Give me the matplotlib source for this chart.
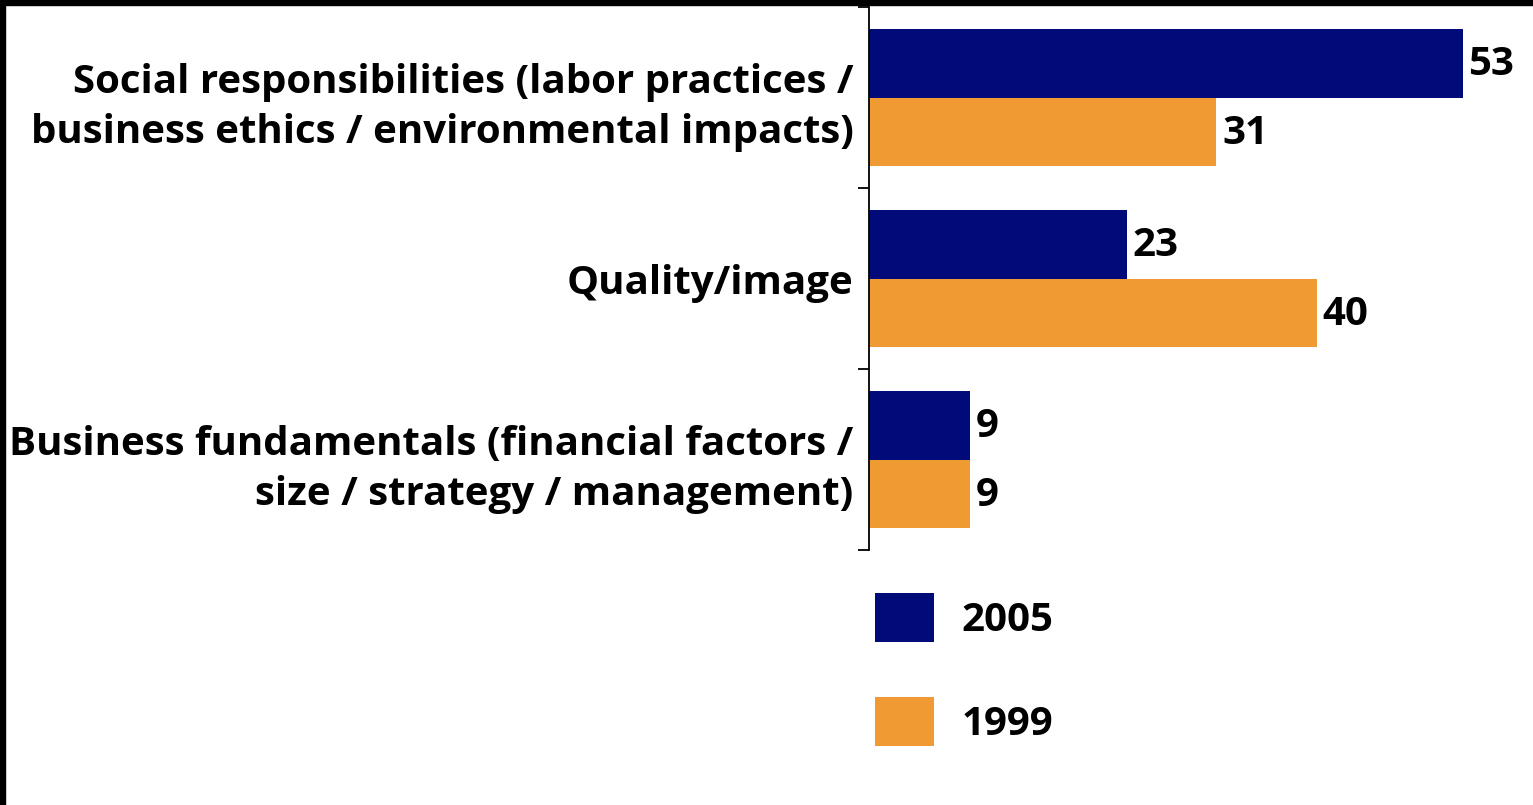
import matplotlib
matplotlib.use("Agg")
import matplotlib.pyplot as plt
from matplotlib.patches import Rectangle
import numpy as np

plt.rcParams['font.family'] = ['Open Sans', 'DejaVu Sans']
plt.rcParams['font.weight'] = 'bold'

# data
categories = ["Social responsibilities (labor practices /\nbusiness ethics / environmental impacts)",
              "Quality/image",
              "Business fundamentals (financial factors /\nsize / strategy / management)"]
series_names = ["2005", "1999"]
values_2005 = [53, 23, 9]
values_1999 = [31, 40, 9]
colors = ["#000A78", "#F09A33"]

W, H = 1533, 805
fig = plt.figure(figsize=(W / 100, H / 100), dpi=100)
ax = fig.add_axes([869 / W, 1 - 550 / H, 650 / W, 543 / H])

y = np.arange(len(categories))
bh = 0.38
fs = 29
bars1 = ax.barh(y - bh / 2, values_2005, height=bh, color=colors[0], label=series_names[0])
bars2 = ax.barh(y + bh / 2, values_1999, height=bh, color=colors[1], label=series_names[1])

for bars, vals in ((bars1, values_2005), (bars2, values_1999)):
    for b, v in zip(bars, vals):
        ax.annotate(str(v), (b.get_width(), b.get_y() + b.get_height() / 2),
                    xytext=(4, -1), textcoords="offset points",
                    ha="left", va="center", fontsize=fs, fontweight="bold")

ax.set_xlim(0, 58)
ax.set_ylim(len(categories) - 0.5, -0.5)

# boundary ticks on the left spine, category labels as minor ticks
ax.set_yticks(np.arange(len(categories) + 1) - 0.5)
ax.set_yticklabels([])
ax.set_yticks(y, minor=True)
ax.set_yticklabels(categories, minor=True, fontsize=fs, fontweight="bold",
                   ha="right", linespacing=1.35)
ax.tick_params(axis="y", which="major", direction="out", length=8, width=1.3, color="black")
ax.tick_params(axis="y", which="minor", length=0, pad=11)
ax.set_xticks([])
for s in ("top", "right", "bottom"):
    ax.spines[s].set_visible(False)
ax.spines["left"].set_linewidth(1.3)

leg = fig.legend(loc="upper left", bbox_to_anchor=(875 / W, 1 - 593 / H),
                 frameon=False, prop={"weight": "bold", "size": fs},
                 handlelength=1.47, handleheight=1.5, handletextpad=0.68,
                 labelspacing=1.37, borderpad=0, borderaxespad=0)

# black frame strips at top and left
fig.add_artist(Rectangle((0, 1 - 5 / H), 1, 5 / H, transform=fig.transFigure,
                         color="black", zorder=10))
fig.add_artist(Rectangle((0, 0), 5 / W, 1, transform=fig.transFigure,
                         color="black", zorder=10))

fig.savefig("out.png", dpi=100)
